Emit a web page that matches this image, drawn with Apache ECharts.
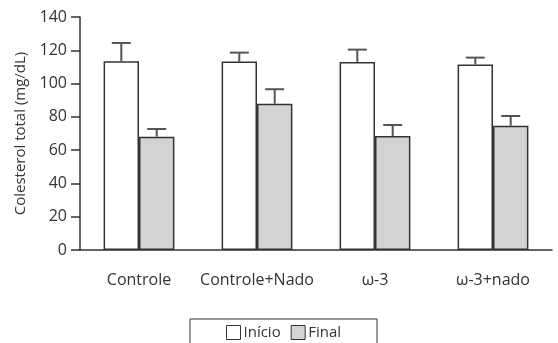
<!DOCTYPE html>
<html><head><meta charset="utf-8">
<script src="https://cdn.jsdelivr.net/npm/echarts@6/dist/echarts.min.js"></script>
<style>html,body{margin:0;padding:0;background:#fff}#c{width:558px;height:343px}</style>
</head><body><div id="c"></div>
<script>
const categories = ['Controle', 'Controle+Nado', 'ω-3', 'ω-3+nado'];
const inicio = [113.4, 113.2, 113.0, 111.4];
const inicioSD = [11.0, 5.4, 7.4, 4.2];
const final = [68.1, 87.9, 68.5, 74.7];
const finalSD = [4.6, 8.7, 6.6, 5.8];
const yTicks = [0, 20, 40, 60, 80, 100, 120, 140];

const FONT = '"Open Sans", "Noto Sans", sans-serif';
const TXT = '#333';

function errSeries(name, vals, sds, side) {
  return {
    type: 'custom', name: name + ' err', silent: true, z: 5,
    data: vals.map((v, i) => [i, v, v + sds[i]]),
    renderItem: function (params, api) {
      const i = api.value(0);
      const band = api.size([1, 0])[0];
      const off = side * band * 0.15;
      const p0 = api.coord([i, api.value(1)]);
      const p1 = api.coord([i, api.value(2)]);
      const x = p0[0] + off;
      const cap = 9.5;
      const st = { stroke: '#555', lineWidth: 2 };
      return { type: 'group', children: [
        { type: 'line', shape: { x1: x, y1: p0[1], x2: x, y2: p1[1] }, style: st },
        { type: 'line', shape: { x1: x - cap, y1: p1[1], x2: x + cap, y2: p1[1] }, style: st }
      ]};
    }
  };
}

const chart = echarts.init(document.getElementById('c'));
chart.setOption({
  animation: false,
  grid: { left: 80, right: 6, top: 17, bottom: 93 },
  legend: {
    data: ['Início', 'Final'],
    left: 190, top: 319,
    padding: [6, 36, 14, 36],
    itemGap: 10, itemWidth: 14, itemHeight: 14,
    icon: 'rect',
    itemStyle: { borderColor: '#333', borderWidth: 1 },
    borderColor: '#333', borderWidth: 1,
    textStyle: { fontFamily: FONT, fontSize: 15, color: TXT, padding: [0, 0, 0, -2] }
  },
  xAxis: {
    type: 'category', data: categories, boundaryGap: true,
    axisLine: { lineStyle: { color: '#333', width: 1.5 } },
    axisTick: { length: 8, lineStyle: { color: '#333', width: 1.5 } },
    axisLabel: { interval: 0, fontFamily: FONT, fontSize: 16, color: TXT, margin: 22 }
  },
  yAxis: {
    type: 'value', min: yTicks[0], max: yTicks[yTicks.length - 1], interval: 20,
    name: 'Colesterol total (mg/dL)', nameLocation: 'middle', nameGap: 51,
    nameTextStyle: { fontFamily: FONT, fontSize: 15, color: TXT },
    axisLine: { show: true, lineStyle: { color: '#333', width: 1.5 } },
    axisTick: { show: true, length: 9, lineStyle: { color: '#333', width: 1.5 } },
    axisLabel: { fontFamily: FONT, fontSize: 16, color: TXT, margin: 13 },
    splitLine: { show: false }
  },
  series: [
    { type: 'bar', name: 'Início', data: inicio, barWidth: '30%', barGap: '0%',
      itemStyle: { color: '#fff', borderColor: '#333', borderWidth: 1.5 } },
    { type: 'bar', name: 'Final', data: final, barWidth: '30%', barGap: '0%',
      itemStyle: { color: '#d2d3d5', borderColor: '#333', borderWidth: 1.5 } },
    errSeries('Início', inicio, inicioSD, -1),
    errSeries('Final', final, finalSD, 1)
  ]
});
</script></body></html>
